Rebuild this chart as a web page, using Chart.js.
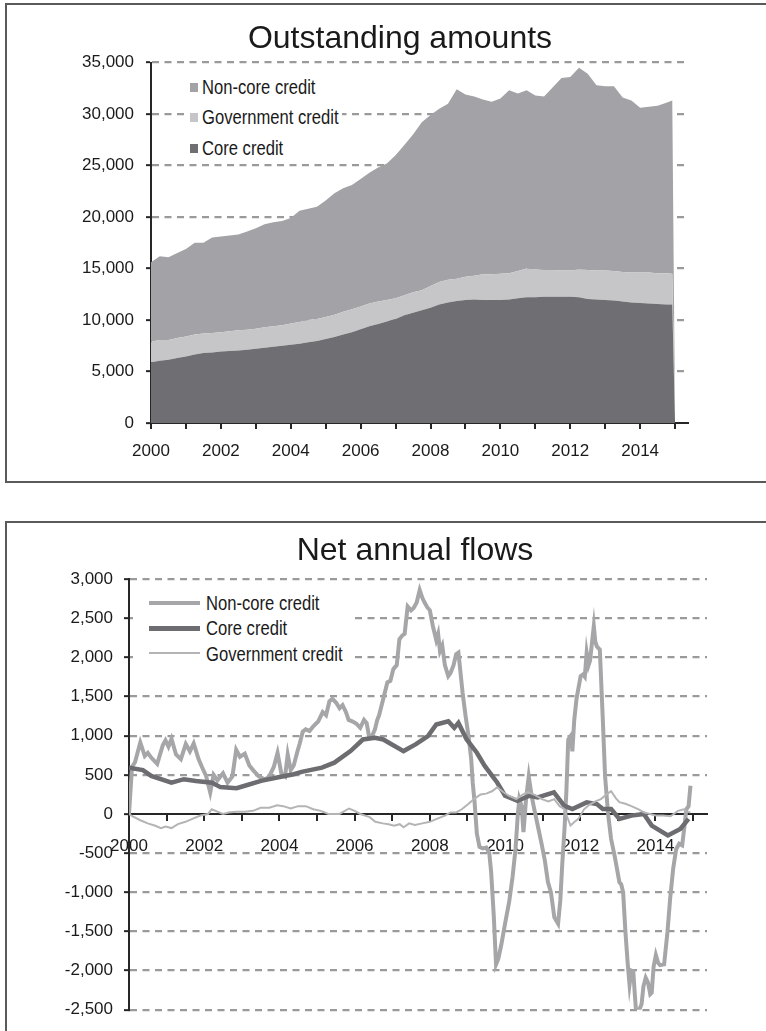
<!DOCTYPE html>
<html>
<head>
<meta charset="utf-8">
<script src="https://cdn.jsdelivr.net/npm/chart.js@4.4.1/dist/chart.umd.min.js"></script>
<style>
  body { margin:0; width:766px; height:1031px; overflow:hidden; background:#fff; position:relative; font-family:"Liberation Sans", Arial, sans-serif; }
  .box { position:absolute; left:5px; width:800px; border:2px solid #5a5a5a; }
  #box1 { top:3px; height:476px; }
  #box2 { top:521px; height:600px; }
  canvas { position:absolute; }
  .title { position:absolute; width:400px; font-size:32px; line-height:38px; color:#1a1a1a; text-align:center; white-space:nowrap; }
  .legend { position:absolute; background:#fff; font-size:20px; color:#1a1a1a; }
  .legend .row { position:absolute; height:22px; line-height:22px; white-space:nowrap; transform:scaleX(0.83); transform-origin:0 50%; }
  .legend .mark { position:absolute; }
</style>
</head>
<body>
<div class="box" id="box1"></div>
<div class="box" id="box2"></div>
<canvas id="stock" width="758" height="475" style="left:7px;top:5px"></canvas>
<canvas id="flow" width="758" height="507" style="left:7px;top:524px"></canvas>

<div class="title" style="left:200px;top:18px">Outstanding amounts</div>
<div class="title" style="left:215px;top:530px">Net annual flows</div>

<div class="legend" style="left:185px;top:76px;width:157px;height:84px">
  <div class="row" style="left:17px;top:0px">Non-core credit</div>
  <div class="mark" style="left:5px;top:7px;width:8px;height:9px;background:#a3a3a7"></div>
  <div class="row" style="left:17px;top:30px">Government credit</div>
  <div class="mark" style="left:5px;top:37px;width:8px;height:9px;background:#c6c6c8"></div>
  <div class="row" style="left:17px;top:61px">Core credit</div>
  <div class="mark" style="left:5px;top:68px;width:8px;height:9px;background:#6f6f73"></div>
</div>

<div class="legend" style="left:133px;top:589px;width:222px;height:78px">
  <div class="mark" style="left:16px;top:12px;width:51px;height:4px;background:#a6a6a9"></div>
  <div class="row" style="left:73px;top:3px">Non-core credit</div>
  <div class="mark" style="left:16px;top:37px;width:51px;height:5px;background:#6d6d71"></div>
  <div class="row" style="left:73px;top:28px">Core credit</div>
  <div class="mark" style="left:16px;top:63px;width:51px;height:2px;background:#b4b4b6"></div>
  <div class="row" style="left:73px;top:54px">Government credit</div>
</div>

<script>
// year ticks shared by both charts
const yearTicks = [2000,2001,2002,2003,2004,2005,2006,2007,2008,2009,2010,2011,2012,2013,2014,2015];

// outstanding amounts (quarterly), stacked: core, government, non-core
const stockYears = [2000.00,2000.25,2000.50,2000.75,2001.00,2001.25,2001.50,2001.75,2002.00,2002.25,2002.50,2002.75,
  2003.00,2003.25,2003.50,2003.75,2004.00,2004.25,2004.50,2004.75,2005.00,2005.25,2005.50,2005.75,
  2006.00,2006.25,2006.50,2006.75,2007.00,2007.25,2007.50,2007.75,2008.00,2008.25,2008.50,2008.75,
  2009.00,2009.25,2009.50,2009.75,2010.00,2010.25,2010.50,2010.75,2011.00,2011.25,2011.50,2011.75,
  2012.00,2012.25,2012.50,2012.75,2013.00,2013.25,2013.50,2013.75,2014.00,2014.25,2014.50,2014.75,2014.92,2015.00];
const coreStock = [5900,6050,6150,6300,6450,6650,6800,6850,6950,7000,7050,7100,
  7200,7300,7400,7500,7600,7700,7850,7950,8150,8350,8600,8800,
  9100,9400,9600,9850,10100,10450,10700,10950,11200,11500,11700,11850,
  11950,12000,11950,11950,11950,12000,12100,12200,12200,12250,12250,12250,
  12250,12200,12050,12000,11950,11900,11800,11700,11650,11600,11550,11500,11500,0];
const govStock = [2000,2000,1900,1950,1950,1950,1900,1900,1850,1900,1950,1950,
  1950,2000,2000,2000,2050,2100,2150,2150,2150,2150,2200,2250,
  2200,2200,2200,2100,2000,1950,2000,1950,2100,2200,2200,2150,
  2250,2300,2500,2500,2550,2550,2650,2800,2700,2600,2600,2550,
  2550,2700,2800,2800,2850,2850,2850,2900,2950,3000,3000,3050,3000,0];
const noncoreStock = [7700,8150,8050,8250,8500,8900,8800,9250,9300,9300,9300,9550,
  9750,10000,10100,10100,10250,10800,10800,10900,11300,11800,12000,12050,
  12400,12700,13000,13250,13900,14600,15300,16300,16600,16800,17100,18400,
  17700,17400,16950,16750,17000,17750,17250,17300,16900,16850,17750,18700,
  18800,19600,19050,18000,17900,17950,16950,16700,16000,16100,16250,16550,16800,0];

// net annual flows
const ncYears = [2000.00,2000.08,2000.16,2000.30,2000.42,2000.50,2000.59,2000.75,2000.90,2000.97,2001.05,2001.13,2001.25,2001.38,
  2001.51,2001.62,2001.72,2001.85,2001.94,2002.05,2002.16,2002.25,2002.35,2002.50,2002.62,2002.75,2002.85,2002.95,
  2003.08,2003.20,2003.30,2003.45,2003.62,2003.73,2003.85,2003.95,2004.05,2004.15,2004.22,2004.30,2004.38,2004.48,
  2004.54,2004.62,2004.70,2004.80,2004.90,2005.03,2005.15,2005.24,2005.33,2005.41,2005.51,2005.60,2005.68,2005.77,
  2005.84,2005.95,2006.05,2006.15,2006.25,2006.32,2006.38,2006.45,2006.54,2006.60,2006.65,2006.75,2006.87,2006.95,
  2007.03,2007.12,2007.19,2007.27,2007.33,2007.41,2007.50,2007.57,2007.65,2007.73,2007.80,2007.86,2007.93,2008.00,
  2008.08,2008.17,2008.22,2008.27,2008.33,2008.40,2008.49,2008.55,2008.63,2008.70,2008.76,2008.87,2008.95,2009.03,
  2009.10,2009.14,2009.19,2009.25,2009.32,2009.41,2009.50,2009.58,2009.63,2009.70,2009.76,2009.82,2009.90,2010.00,
  2010.11,2010.20,2010.28,2010.34,2010.38,2010.44,2010.49,2010.56,2010.63,2010.70,2010.76,2010.87,2010.98,2011.06,
  2011.14,2011.22,2011.31,2011.41,2011.47,2011.52,2011.58,2011.63,2011.68,2011.75,2011.79,2011.84,2011.90,2012.01,
  2012.07,2012.12,2012.17,2012.22,2012.26,2012.36,2012.40,2012.44,2012.52,2012.60,2012.66,2012.74,2012.82,2012.92,
  2013.04,2013.09,2013.14,2013.20,2013.26,2013.31,2013.36,2013.41,2013.45,2013.49,2013.55,2013.63,2013.68,2013.74,
  2013.80,2013.86,2013.90,2013.95,2014.01,2014.07,2014.12,2014.23,2014.32,2014.39,2014.47,2014.55,2014.63,2014.71,
  2014.76,2014.82,2014.88,2014.93];
const noncoreFlow = [0,600,660,914,740,780,720,640,880,940,860,960,760,700,
  893,800,900,700,600,486,275,500,430,520,400,480,820,730,
  770,620,560,480,440,480,600,780,520,480,760,560,620,800,
  900,1050,1080,1060,1120,1180,1300,1260,1440,1470,1420,1350,1390,1300,
  1200,1180,1150,1100,1200,1160,1000,980,1080,1200,1260,1450,1680,1700,
  1850,1900,2230,2280,2300,2650,2600,2630,2700,2860,2760,2700,2640,2600,
  2400,2220,2300,2080,2150,1900,1760,1800,1900,2040,2060,1550,1250,990,
  700,400,150,-250,-420,-440,-430,-500,-740,-1300,-1920,-1850,-1670,-1400,
  -1120,-800,-440,0,190,100,-230,200,480,250,100,-150,-400,-600,
  -870,-1000,-1320,-1400,-1100,-650,-200,280,950,1000,800,1200,1470,1760,
  1780,1750,2060,1900,1960,2400,2200,2140,2100,1200,480,0,-320,-550,
  -870,-900,-1000,-1500,-1900,-2180,-2000,-2010,-2300,-2560,-2520,-2430,-2200,-2090,
  -2150,-2300,-2280,-1950,-1800,-1900,-1930,-1920,-1500,-1080,-700,-450,-380,-400,
  -200,60,100,360];

const coreYears = [2000.00,2000.37,2000.59,2001.13,2001.46,2001.78,2002.21,2002.43,2002.86,2003.08,2003.51,2003.94,
  2004.38,2004.59,2005.13,2005.46,2005.89,2006.22,2006.54,2006.76,2007.30,2007.62,2007.95,2008.17,
  2008.49,2008.65,2008.76,2008.98,2009.25,2009.46,2009.79,2010.00,2010.33,2010.65,2010.87,2011.30,
  2011.57,2011.79,2012.17,2012.44,2012.60,2012.82,2013.04,2013.36,2013.69,2013.90,2014.33,2014.66,2014.88];
const coreFlow = [590,560,486,400,444,420,400,343,330,360,423,465,
  507,537,592,655,803,951,972,951,803,888,994,1142,
  1184,1100,1163,951,782,613,402,233,169,233,212,275,
  106,64,148,127,64,64,-63,-21,0,-148,-275,-190,-63];

const govYears = [2000.00,2000.10,2000.30,2000.50,2000.70,2000.85,2000.97,2001.13,2001.30,2001.50,2001.70,2001.90,
  2002.10,2002.20,2002.35,2002.50,2002.65,2002.85,2003.08,2003.30,2003.50,2003.73,2003.94,2004.10,
  2004.30,2004.50,2004.70,2004.90,2005.10,2005.30,2005.60,2005.85,2006.00,2006.15,2006.40,2006.55,
  2006.75,2006.90,2007.05,2007.20,2007.30,2007.45,2007.60,2007.80,2008.00,2008.20,2008.40,2008.55,
  2008.70,2008.85,2009.03,2009.20,2009.35,2009.50,2009.65,2009.79,2009.95,2010.11,2010.30,2010.45,
  2010.60,2010.80,2010.98,2011.15,2011.31,2011.45,2011.57,2011.74,2011.85,2011.95,2012.10,2012.25,
  2012.40,2012.55,2012.70,2012.82,2012.95,2013.04,2013.20,2013.36,2013.55,2013.69,2013.85,2014.01,
  2014.20,2014.40,2014.60,2014.75,2014.85,2014.93];
const govFlow = [0,-30,-80,-120,-150,-180,-160,-180,-130,-100,-60,-20,
  0,60,30,0,20,30,30,40,80,80,110,100,
  70,100,100,60,40,0,0,70,40,0,-40,-100,
  -120,-130,-150,-130,-170,-120,-140,-120,-100,-60,-20,20,
  20,60,130,200,250,260,290,340,280,230,190,240,
  280,240,190,160,190,100,64,-148,-100,-63,60,120,
  160,190,250,290,200,150,130,100,60,20,0,-20,
  -20,-30,40,60,30,20];

const stockTicks = [0,5000,10000,15000,20000,25000,30000,35000];
const flowTicks = [-2500,-2000,-1500,-1000,-500,0,500,1000,1500,2000,2500,3000];

const pts = (xs, ys) => xs.map((x, i) => ({x: x, y: ys[i]}));
const tickFont = {family: '"Liberation Sans", Arial, sans-serif', size: 17};
const axisColor = '#262626';
const gridColor = (c) => (c.tick && c.tick.value === 0) ? 'rgba(0,0,0,0)' : '#9a9a9a';

function xScale(pad, extra) {
  return Object.assign({
    type: 'linear', min: 2000, max: 2015.37,
    afterBuildTicks: (s) => { s.ticks = yearTicks.map(v => ({value: v})); },
    grid: {drawOnChartArea: false, color: axisColor, lineWidth: 2, tickLength: 6},
    border: {color: axisColor, width: 2},
    ticks: {font: tickFont, color: '#1a1a1a', padding: pad, autoSkip: false, maxRotation: 0,
      callback: (v) => v % 2 === 0 ? String(v) : ''}
  }, extra);
}
function yScale(vals, width, pad, extra) {
  return Object.assign({
    min: vals[0], max: vals[vals.length - 1],
    afterBuildTicks: (s) => { s.ticks = vals.map(v => ({value: v})); },
    afterFit: (s) => { s.width = width; },
    grid: {color: gridColor, lineWidth: 2.3, tickLength: 5, tickColor: axisColor, tickWidth: 2},
    border: {color: axisColor, width: 2, dash: [7, 5.5]},
    ticks: {font: tickFont, color: '#1a1a1a', padding: pad}
  }, extra);
}

const common = {
  responsive: false, animation: false,
  plugins: {legend: {display: false}, title: {display: false}, tooltip: {enabled: false}},
  elements: {point: {radius: 0}, line: {tension: 0}}
};

new Chart(document.getElementById('stock'), {
  type: 'line',
  data: {datasets: [
    {label: 'Core credit', data: pts(stockYears, coreStock), backgroundColor: '#6f6f73', borderWidth: 0, fill: 'origin'},
    {label: 'Government credit', data: pts(stockYears, govStock), backgroundColor: '#c6c6c8', borderWidth: 0, fill: '-1'},
    {label: 'Non-core credit', data: pts(stockYears, noncoreStock), backgroundColor: '#a3a3a7', borderWidth: 0, fill: '-1'}
  ]},
  options: Object.assign({}, common, {
    layout: {padding: {top: 57.5, right: 77, bottom: 17, left: 0}},
    scales: {
      x: xScale(12, {z: 1, afterFit: (s) => { s.height = 40; }}),
      y: yScale(stockTicks, 144, 12, {stacked: true})
    }
  })
});

new Chart(document.getElementById('flow'), {
  type: 'line',
  data: {datasets: [
    {label: 'Government credit', data: pts(govYears, govFlow), borderColor: '#b4b4b6', borderWidth: 2, fill: false},
    {label: 'Core credit', data: pts(coreYears, coreFlow), borderColor: '#6d6d71', borderWidth: 4.5, fill: false},
    {label: 'Non-core credit', data: pts(ncYears, noncoreFlow), borderColor: '#a6a6a9', borderWidth: 4, fill: false}
  ]},
  options: Object.assign({}, common, {
    layout: {padding: {top: 55, right: 58, bottom: 19, left: 0}},
    scales: {
      x: xScale(16, {position: {y: 0}}),
      y: yScale(flowTicks, 122, 11, {})
    }
  })
});
</script>
</body>
</html>
